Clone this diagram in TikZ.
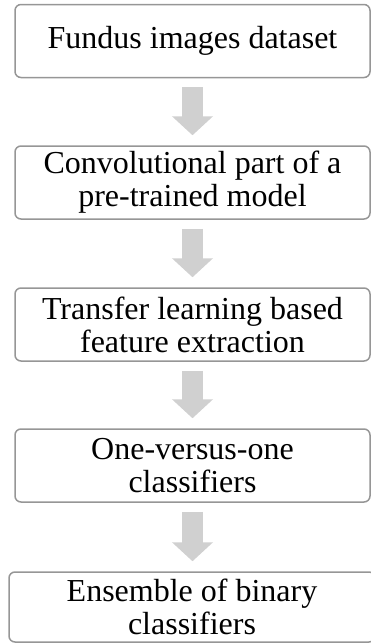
\documentclass[tikz,border=0pt]{standalone}
\usepackage{fontspec}
\setmainfont{Liberation Serif}
\usetikzlibrary{arrows.meta}
\definecolor{boxline}{RGB}{150,150,150}
\definecolor{flowgray}{RGB}{208,208,208}
\begin{document}
\begin{tikzpicture}[x=1pt,y=-1pt,
  stage/.style={draw=boxline, line width=1.5pt, rounded corners=6pt, fill=white,
    minimum width=355pt, minimum height=73pt, inner sep=0pt, align=center,
    font=\fontsize{32}{33}\selectfont},
  flow/.style={draw=flowgray, line width=21pt,
    -{Triangle[width=40pt,length=19pt]}, shorten <=9pt, shorten >=10pt}]
\useasboundingbox (0,0) rectangle (371,643);

\node[stage] (b1) at (192.5,41)    {Fundus images dataset};
\node[stage] (b2) at (192.5,182.5) {Convolutional part of a\\pre-trained model};
\node[stage] (b3) at (192.5,324.5) {Transfer learning based\\feature extraction};
\node[stage] (b4) at (192.5,465.5) {One-versus-one\\classifiers};
\node[stage, minimum width=366pt, minimum height=70pt] (b5) at (192,607)
  {Ensemble of binary\\classifiers};

\draw[flow] (b1.south) -- (b2.north);
\draw[flow] (b2.south) -- (b3.north);
\draw[flow] (b3.south) -- (b4.north);
\draw[flow] (b4.south) -- (b4.south |- b5.north);
\end{tikzpicture}
\end{document}
